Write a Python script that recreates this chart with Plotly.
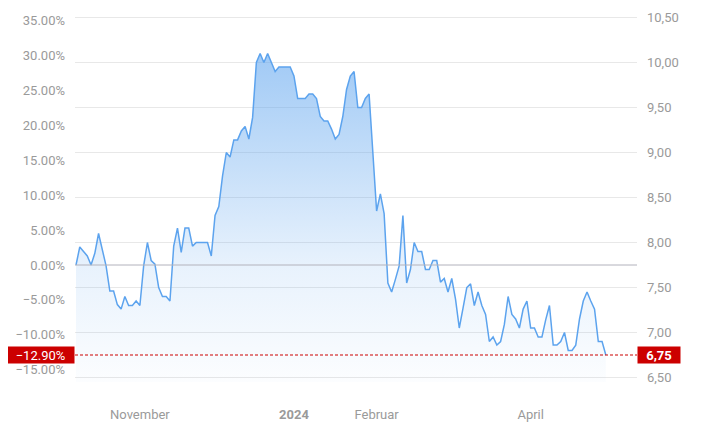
import plotly.graph_objects as go

# Daily closing prices (trading-day index)
prices = [
    7.75, 7.95, 7.90, 7.85, 7.75, 7.88, 8.10, 7.92, 7.74, 7.46,
    7.46, 7.31, 7.26, 7.40, 7.30, 7.30, 7.35, 7.30, 7.74, 8.00,
    7.80, 7.76, 7.50, 7.40, 7.40, 7.35, 7.96, 8.16, 7.89, 8.16,
    8.16, 7.96, 8.00, 8.00, 8.00, 8.00, 7.85, 8.30, 8.40, 8.74,
    9.00, 8.95, 9.14, 9.14, 9.24, 9.29, 9.15, 9.39, 10.00, 10.10,
    10.00, 10.10, 10.00, 9.90, 9.95, 9.95, 9.95, 9.95, 9.85, 9.60,
    9.60, 9.60, 9.65, 9.65, 9.60, 9.40, 9.35, 9.35, 9.26, 9.15,
    9.20, 9.40, 9.70, 9.85, 9.90, 9.50, 9.50, 9.60, 9.65, 9.03,
    8.35, 8.54, 8.32, 7.55, 7.45, 7.59, 7.74, 8.30, 7.55, 7.70,
    8.00, 7.90, 7.90, 7.70, 7.70, 7.80, 7.80, 7.56, 7.60, 7.45,
    7.60, 7.37, 7.05, 7.27, 7.50, 7.54, 7.30, 7.45, 7.30, 7.20,
    6.90, 6.95, 6.86, 6.90, 7.09, 7.40, 7.20, 7.15, 7.05, 7.26,
    7.35, 7.05, 7.05, 6.95, 6.95, 7.14, 7.30, 6.86, 6.86, 6.90,
    7.00, 6.80, 6.80, 6.86, 7.15, 7.35, 7.45, 7.35, 7.26, 6.90,
    6.90, 6.75,
]

# x tick positions (trading-day index of first trading day of the month) and labels
month_tick_index = [17, 58, 80, 121]
month_tick_labels = ["November", "<b>2024</b>", "Februar", "April"]

# right axis (price) ticks
price_ticks = [6.5, 7.0, 7.5, 8.0, 8.5, 9.0, 9.5, 10.0, 10.5]
# left axis (performance in %) ticks
pct_ticks = [-15, -10, -5, 0, 5, 10, 15, 20, 25, 30, 35]

FONT = "Roboto"
GREY = "#9a9a9a"
RED = "#cc0000"
LINE = "#5ca3ee"

base = prices[0]
last = prices[-1]
last_pct = (last / base - 1) * 100

y_lo, y_hi = 6.45, 10.55
pct_lo = (y_lo / base - 1) * 100
pct_hi = (y_hi / base - 1) * 100


def fmt_pct(v):
    s = f"{abs(v):.2f}%"
    return ("\u2212" + s) if v < -1e-9 else s


def fmt_price(v):
    return f"{v:.2f}".replace(".", ",")


x = list(range(len(prices)))

fig = go.Figure()
fig.add_trace(go.Scatter(
    x=x, y=prices, mode="lines",
    line=dict(color=LINE, width=1.5),
    fill="tozeroy",
    fillgradient=dict(
        type="vertical",
        start=y_lo, stop=max(prices),
        colorscale=[[0, "rgba(92,163,238,0.02)"], [0.35, "rgba(92,163,238,0.14)"],
                    [1, "rgba(92,163,238,0.58)"]],
    ),
    hoverinfo="skip",
    yaxis="y",
))

# invisible trace to activate left axis
fig.add_trace(go.Scatter(
    x=[x[0]], y=[0], mode="markers", marker=dict(opacity=0),
    yaxis="y2", hoverinfo="skip", showlegend=False,
))

shapes = [
    dict(type="line", xref="paper", x0=0, x1=1, yref="y", y0=base, y1=base,
         line=dict(color="#b2b2bc", width=1), layer="above"),
    dict(type="line", xref="paper", x0=0, x1=1, yref="y", y0=last, y1=last,
         line=dict(color=RED, width=1.2, dash="3px,2px"), layer="above"),
]

annotations = [
    dict(xref="paper", x=0, xanchor="right", yref="y", y=last, yanchor="middle",
         text=fmt_pct(last_pct), showarrow=False, bgcolor=RED, width=67, height=16,
         borderpad=0, align="center", font=dict(family=FONT, size=13, color="white")),
    dict(xref="paper", x=1, xanchor="left", yref="y", y=last, yanchor="middle",
         text="<b>" + fmt_price(last) + "</b>", showarrow=False, bgcolor=RED,
         width=42, height=16, borderpad=0, align="center",
         font=dict(family=FONT, size=13, color="white")),
]

# page body has an 8px default margin; size the figure to fill the rest of the window
fig.update_layout(
    width=701, height=427,
    margin=dict(l=67, r=72, t=5, b=53),
    paper_bgcolor="white", plot_bgcolor="white",
    showlegend=False,
    font=dict(family=FONT, size=13, color=GREY),
    xaxis=dict(
        range=[-0.27, 149.3], automargin=False,
        tickvals=month_tick_index, ticktext=month_tick_labels,
        showgrid=False, zeroline=False, showline=False, ticks="",
        ticklabelstandoff=23,
        tickfont=dict(family=FONT, size=13, color=GREY),
    ),
    yaxis=dict(
        side="right", range=[y_lo, y_hi], automargin=False,
        tickvals=price_ticks, ticktext=[fmt_price(v) for v in price_ticks],
        showgrid=True, gridcolor="#e8e8e8", gridwidth=1,
        zeroline=False, showline=False, ticks="",
        ticklabelstandoff=9,
        tickfont=dict(family=FONT, size=13, color=GREY),
    ),
    yaxis2=dict(
        side="left", overlaying="y", range=[pct_lo, pct_hi], automargin=False,
        tickvals=pct_ticks, ticktext=[fmt_pct(v) for v in pct_ticks],
        showgrid=False, zeroline=False, showline=False, ticks="",
        ticklabelstandoff=9,
        tickfont=dict(family=FONT, size=13, color=GREY),
    ),
    shapes=shapes,
    annotations=annotations,
)

fig.write_html("out.html")
